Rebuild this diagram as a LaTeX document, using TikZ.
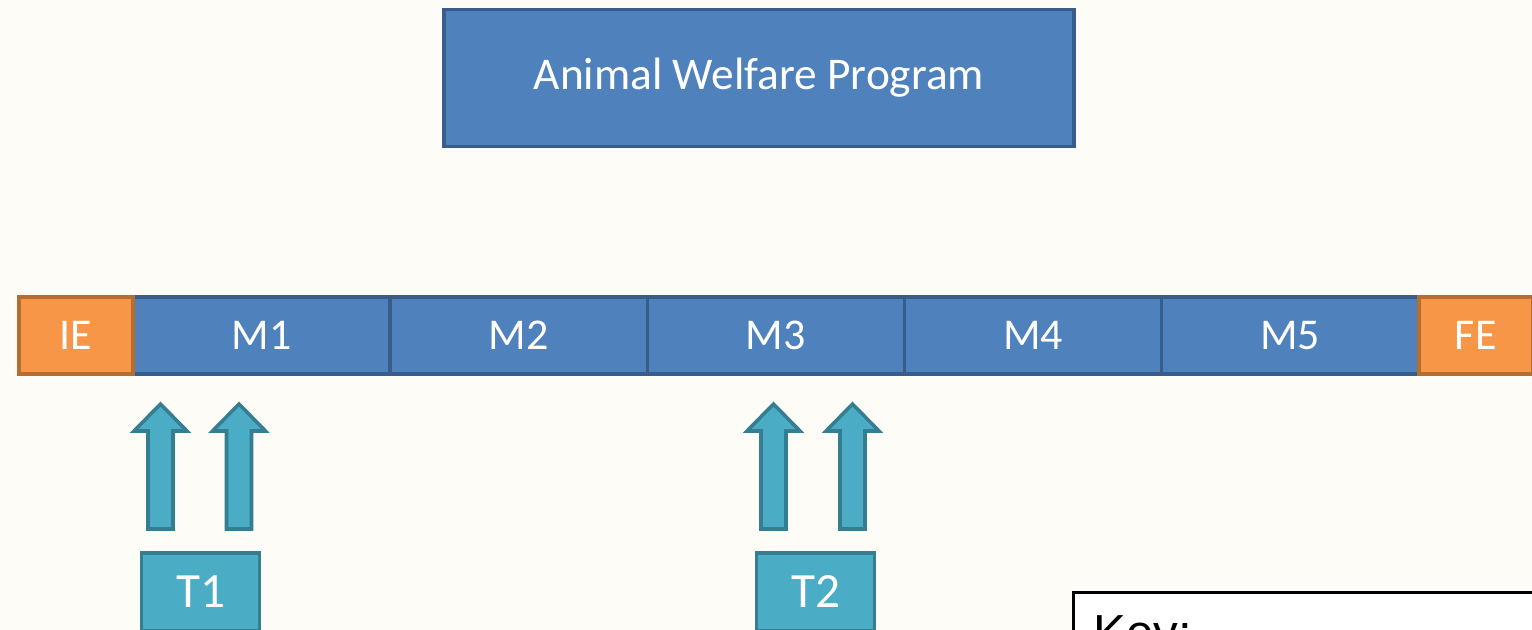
\documentclass[tikz,border=0pt]{standalone}
\usepackage{fontspec}
\setmainfont{Carlito}
\newfontfamily\keyfont{Liberation Sans}
\usetikzlibrary{positioning}
\definecolor{bgcream}{HTML}{FDFCF7}
\definecolor{progblue}{HTML}{4F81BD}
\definecolor{progedge}{HTML}{385D8A}
\definecolor{endorange}{HTML}{F79646}
\definecolor{endedge}{HTML}{B66D31}
\definecolor{taskteal}{HTML}{4BACC6}
\definecolor{taskedge}{HTML}{357D91}
\tikzset{uparrow/.style={draw=taskedge, fill=taskteal, line width=1pt, line join=miter}}

\begin{document}
\begin{tikzpicture}[x=0.01cm, y=-0.01cm,
                    prog/.style={draw=progedge, fill=progblue, line width=1pt, text=white,
                                 minimum width=6.30cm, minimum height=1.37cm,
                                 font=\fontsize{12.9}{15}\selectfont},
                    module/.style={draw=progedge, fill=progblue, line width=1pt, text=white,
                                   minimum width=2.57cm, minimum height=0.77cm, inner sep=0pt,
                                   outer sep=0pt, font=\fontsize{12.5}{15}\selectfont},
                    ends/.style={module, draw=endedge, fill=endorange, minimum width=1.14cm},
                    task/.style={draw=taskedge, fill=taskteal, line width=1pt, text=white,
                                 minimum width=1.18cm, minimum height=0.78cm, inner sep=0pt,
                                 font=\fontsize{14}{16}\selectfont},
                    keybox/.style={draw=black, fill=white, line width=0.9pt,
                                   minimum width=5cm, minimum height=1.5cm}]
    % Frame
    \useasboundingbox (0,0) rectangle (1532,630);
    \clip (0,0) rectangle (1532,630);
    \fill [bgcream] (0,0) rectangle (1532,630);

    % Program
    \node [prog] (awp) at (759,78) {Animal Welfare Program};

    % Modules
    \coordinate (barstart) at (133,335.5);
    \node [module, anchor=west] (m1) at (barstart) {M1};
    \foreach \i [remember=\i as \j (initially 1)] in {2,...,5}
        \node [module, right=0pt of m\j] (m\i) {M\i};
    \node [ends, left=0pt of m1]  (ie) {IE};
    \node [ends, right=0pt of m5] (fe) {FE};

    % Tasks
    \node [task] (t1) at (200.5,592) {T1};
    \node [task] (t2) at (815.5,592) {T2};

    % Block arrows
    \foreach \ax in {160.5,239,773.5,852.5}
        \draw [uparrow] (\ax-12.5,529) -- (\ax-12.5,431) -- (\ax-26.5,431) -- (\ax,404)
                        -- (\ax+26.5,431) -- (\ax+12.5,431) -- (\ax+12.5,529) -- cycle;

    % Key
    \node [keybox, anchor=north west] (key) at (1072,591) {};
    \node [anchor=north west, inner sep=0pt, font=\keyfont\fontsize{14}{16}\selectfont]
          (keytxt) at (1093,615) {Key:};
\end{tikzpicture}
\end{document}
